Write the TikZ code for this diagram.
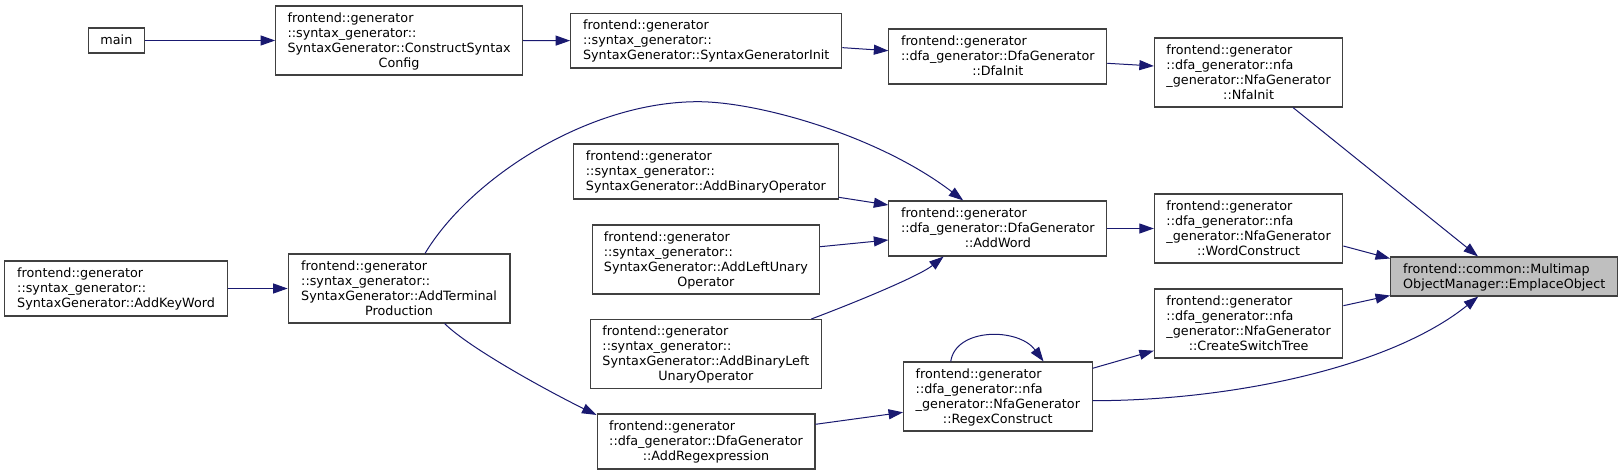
\documentclass[tikz,border=0pt]{standalone}
\usepackage{fontspec}
\setmainfont{DejaVu Sans}
\usetikzlibrary{arrows.meta}
\definecolor{edgec}{HTML}{191970}
\definecolor{boxc}{HTML}{404040}
\definecolor{hil}{HTML}{BFBFBF}
\newcommand\R{\rule[-3.4pt]{0pt}{15pt}}
\newcommand\Ln[1]{\R#1\\}
\newcommand\lbl[2]{{\renewcommand\arraystretch{0}\begin{tabular}{@{}l@{}}#1\multicolumn{1}{@{}c@{}}{\R#2}\end{tabular}}}
\tikzset{
  fnbox/.style={draw=boxc, line width=1.1pt, fill=white, inner sep=0pt,
    font=\fontsize{12.75pt}{15pt}\selectfont},
  edge/.style={draw=edgec, line width=1pt, -{Triangle[length=14.5pt,width=10pt]}},
}
\begin{document}
\begin{tikzpicture}[x=1pt,y=1pt]
\fill[white] (0,0) rectangle (1623,475);
\node[fnbox, minimum width=55.3pt, minimum height=25pt] (main) at (116.4,434.5) {\lbl{}{main}};
\node[fnbox, minimum width=246.8pt, minimum height=69pt] (csc) at (399.1,434.5)
  {\lbl{\Ln{frontend::generator}\Ln{::syntax\_generator::}\Ln{SyntaxGenerator::ConstructSyntax}}{Config}};
\node[fnbox, minimum width=271.1pt, minimum height=54.7pt] (sginit) at (706.25,434.35)
  {\lbl{\Ln{frontend::generator}\Ln{::syntax\_generator::}}{SyntaxGenerator::SyntaxGeneratorInit}};
\node[fnbox, minimum width=217.8pt, minimum height=55pt] (dfainit) at (997.8,418.5)
  {\lbl{\Ln{frontend::generator}\Ln{::dfa\_generator::DfaGenerator}}{::DfaInit}};
\node[fnbox, minimum width=188.4pt, minimum height=69pt] (nfainit) at (1248.6,402.5)
  {\lbl{\Ln{frontend::generator}\Ln{::dfa\_generator::nfa}\Ln{\_generator::NfaGenerator}}{::NfaInit}};
\node[fnbox, minimum width=264.6pt, minimum height=55pt] (addbinop) at (705.9,303.5)
  {\lbl{\Ln{frontend::generator}\Ln{::syntax\_generator::}}{SyntaxGenerator::AddBinaryOperator}};
\node[fnbox, minimum width=217.8pt, minimum height=55pt] (addword) at (997.8,246.5)
  {\lbl{\Ln{frontend::generator}\Ln{::dfa\_generator::DfaGenerator}}{::AddWord}};
\node[fnbox, minimum width=188.4pt, minimum height=69pt] (wordc) at (1248.6,246.5)
  {\lbl{\Ln{frontend::generator}\Ln{::dfa\_generator::nfa}\Ln{\_generator::NfaGenerator}}{::WordConstruct}};
\node[fnbox, fill=hil, minimum width=227.2pt, minimum height=39pt] (emplace) at (1504.2,198.5)
  {\lbl{\Ln{frontend::common::Multimap}}{ObjectManager::EmplaceObject}};
\node[fnbox, minimum width=227.5pt, minimum height=69pt] (addleft) at (705.85,215.5)
  {\lbl{\Ln{frontend::generator}\Ln{::syntax\_generator::}\Ln{SyntaxGenerator::AddLeftUnary}}{Operator}};
\node[fnbox, minimum width=223.6pt, minimum height=55pt] (addkey) at (116.1,186.5)
  {\lbl{\Ln{frontend::generator}\Ln{::syntax\_generator::}}{SyntaxGenerator::AddKeyWord}};
\node[fnbox, minimum width=221.8pt, minimum height=69pt] (atp) at (399.1,186.5)
  {\lbl{\Ln{frontend::generator}\Ln{::syntax\_generator::}\Ln{SyntaxGenerator::AddTerminal}}{Production}};
\node[fnbox, minimum width=188.4pt, minimum height=69pt] (cst) at (1248.6,151.5)
  {\lbl{\Ln{frontend::generator}\Ln{::dfa\_generator::nfa}\Ln{\_generator::NfaGenerator}}{::CreateSwitchTree}};
\node[fnbox, minimum width=231pt, minimum height=69pt] (addbinleft) at (705.9,121)
  {\lbl{\Ln{frontend::generator}\Ln{::syntax\_generator::}\Ln{SyntaxGenerator::AddBinaryLeft}}{UnaryOperator}};
\node[fnbox, minimum width=188.5pt, minimum height=69pt] (regex) at (997.85,78.5)
  {\lbl{\Ln{frontend::generator}\Ln{::dfa\_generator::nfa}\Ln{\_generator::NfaGenerator}}{::RegexConstruct}};
\node[fnbox, minimum width=217.9pt, minimum height=55pt] (addregex) at (706,33.5)
  {\lbl{\Ln{frontend::generator}\Ln{::dfa\_generator::DfaGenerator}}{::AddRegexpression}};
\coordinate (peak) at (698,373.3);

\draw[edge] (main.east) -- (csc.west);
\draw[edge] (csc.east) -- (sginit.west);
\draw[edge] ([yshift=-7pt]sginit.east) -- ([yshift=5.8pt]dfainit.west);
\draw[edge] ([yshift=-6.8pt]dfainit.east) -- ([yshift=6.5pt]nfainit.west);
\draw[edge] ([xshift=44.4pt]nfainit.south) -- ([xshift=-26.2pt]emplace.north);
\draw[edge] (addword.east) -- (wordc.west);
\draw[edge] ([yshift=-17.5pt]wordc.east) -- ([yshift=18pt]emplace.west);
\draw[edge] ([yshift=17.8pt]cst.east) -- ([yshift=-19pt]emplace.west);
\draw[edge] ([yshift=-4.2pt]regex.east) .. controls +(138,0) and +(-88,-71) .. ([xshift=-26pt]emplace.south);
\draw[edge] ([yshift=28.2pt]regex.east) -- ([yshift=-27.2pt]cst.west);
\draw[edge] ([yshift=17.2pt]addregex.east) -- ([yshift=-15.8pt]regex.west);
\draw[edge] ([xshift=45.5pt]atp.south) .. controls +(25,-25) and +(-45,22) .. ([yshift=-1.5pt]addregex.north west);
\draw[edge] ([xshift=25.9pt]atp.north) .. controls +(45,75) and +(-110,0) .. (peak)
  .. controls +(60,0) and +(-85,65) .. ([xshift=-34.6pt]addword.north);
\draw[edge] (addkey.east) -- (atp.west);
\draw[edge] ([yshift=-25.8pt]addbinop.east) -- ([yshift=23.5pt]addword.west);
\draw[edge] ([yshift=12.8pt]addleft.east) -- ([yshift=-11.5pt]addword.west);
\draw[edge] ([xshift=105.5pt]addbinleft.north) .. controls +(40,15) and +(-25,-20) .. ([xshift=-54.2pt]addword.south);
\draw[edge] ([xshift=-47.1pt]regex.north) .. controls +(5,34) and +(-25,34) .. ([xshift=45.7pt]regex.north);
\end{tikzpicture}
\end{document}
